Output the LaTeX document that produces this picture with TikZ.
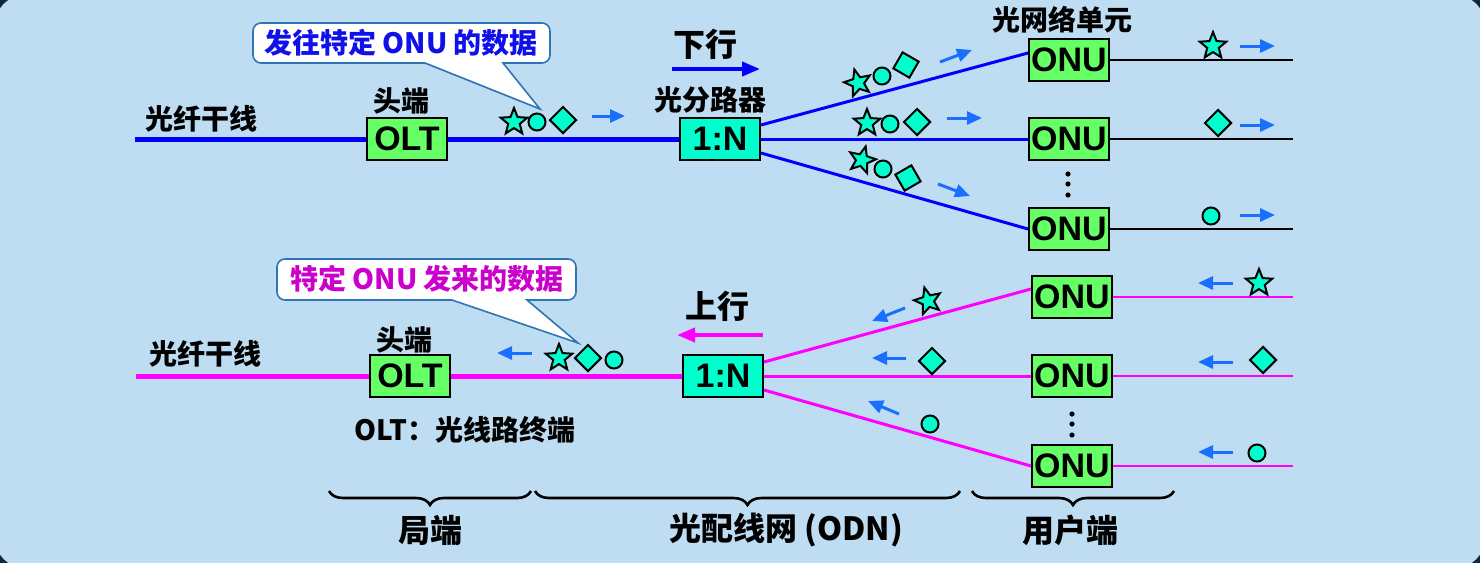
\documentclass[tikz,border=0pt]{standalone}
\usepackage{fontspec}
\setmainfont{Liberation Sans}
\newfontfamily\cjk{Noto Sans CJK SC}
\usetikzlibrary{shapes.geometric,arrows.meta,decorations.pathreplacing}
\definecolor{bgblue}{RGB}{190,221,242}
\definecolor{navy}{RGB}{18,38,62}
\definecolor{boxgreen}{RGB}{102,255,102}
\definecolor{symcyan}{RGB}{0,255,204}
\definecolor{arrowblue}{RGB}{26,111,255}
\definecolor{callborder}{RGB}{46,117,182}
\definecolor{calltop}{RGB}{16,16,235}
\definecolor{callbot}{RGB}{204,0,204}
\definecolor{mag}{RGB}{255,0,255}
\begin{document}
\begin{tikzpicture}[x=0.5pt,y=-0.5pt,
  box/.style={draw=black,line width=1pt,minimum width=40pt,minimum height=21pt,inner sep=0pt,font=\fontsize{17}{17}\selectfont\bfseries},
  greenbox/.style={box,fill=boxgreen},
  cyanbox/.style={box,fill=symcyan},
  lbl/.style={font=\cjk\bfseries\fontsize{14}{14}\selectfont,inner sep=0pt},
  biglbl/.style={font=\cjk\bfseries\fontsize{16}{16}\selectfont,inner sep=0pt},
  starsym/.style={star,star points=5,star point ratio=2.3,draw=black,fill=symcyan,line width=1pt,minimum size=14pt,inner sep=0pt},
  circsym/.style={circle,draw=black,fill=symcyan,line width=1pt,minimum size=8.5pt,inner sep=0pt},
  diasym/.style={diamond,aspect=1,draw=black,fill=symcyan,line width=1pt,minimum size=13.5pt,inner sep=0pt},
  sarrow/.style={draw=arrowblue,line width=1.5pt,-{Triangle[length=7.5pt,width=6.5pt]}},
  trunkB/.style={draw=blue,line width=2.5pt},
  trunkM/.style={draw=mag,line width=2.5pt},
  branchB/.style={draw=blue,line width=1.5pt},
  branchM/.style={draw=mag,line width=1.5pt},
  userB/.style={draw=black,line width=1.2pt},
  userM/.style={draw=mag,line width=1.1pt},
  callout/.style={draw=callborder,line width=0.8pt,fill=white},
  bracestyle/.style={decorate,decoration={brace,mirror,amplitude=7pt},line width=1.3pt},
  dirarrowB/.style={draw=blue,line width=2pt,-{Triangle[length=9pt,width=7pt]}},
  dirarrowM/.style={draw=mag,line width=2pt,-{Triangle[length=9pt,width=7pt]}}
]
% background
\useasboundingbox (0,0) rectangle (1480,563);
\begin{scope}
\clip (0,0) rectangle (1480,563);
\fill[navy] (0,0) rectangle (1480,563);
\fill[bgblue,rounded corners=15pt] (-5,-5) rectangle (1485,568);
\end{scope}

% ================= downstream =================
\node[lbl] (trunk1) at (201,119) {光纤干线};
\coordinate (t1start) at (135,139);
\node[greenbox] (olt1) at (407,139) {OLT};
\node[lbl] (head1) at (401,101) {头端};
\node[cyanbox] (sp1) at (720,139) {1:N};
\node[lbl] (splab1) at (710,100) {光分路器};
\node[biglbl] (down) at (705,44) {下行};
\coordinate (dA) at (672,69);
\coordinate (dB) at (760,69);
\draw[dirarrowB] (dA) -- (dB);

\node[greenbox] (onu1) at (1069,60) {ONU};
\node[greenbox] (onu2) at (1069,139) {ONU};
\node[greenbox] (onu3) at (1069,229) {ONU};
\node[lbl] (onulab) at (1062,20) {光网络单元};
\coordinate (r1) at (1293,60);
\coordinate (r2) at (1293,139);
\coordinate (r3) at (1293,229);

\draw[trunkB] (t1start) -- (olt1.west);
\draw[trunkB] (olt1.east) -- (sp1.west);
\draw[branchB] ([yshift=7pt]sp1.east) -- ([yshift=3.5pt]onu1.west);
\draw[branchB] (sp1.east) -- (onu2.west);
\draw[branchB] ([yshift=-7pt]sp1.east) -- (onu3.west);
\draw[userB] (onu1.east) -- (r1);
\draw[userB] (onu2.east) -- (r2);
\draw[userB] (onu3.east) -- (r3);
\foreach \yy in {174,184,195} \fill (1068,\yy) circle (1.3pt);

% callout top
\draw[callout] (425,63) -- (540,109) -- (503,63) [rounded corners=4pt] -- (550,63) -- (550,23) -- (253,23) -- (253,63) [sharp corners] -- cycle;
\node[font=\cjk\bfseries\fontsize{14}{14}\selectfont,text=calltop,inner sep=0pt] (c1) at (401,43) {发往特定 ONU 的数据};

% symbols top trunk
\node[starsym] (ts1) at (514,122) {};
\node[circsym] (tc1) at (537,122) {};
\node[diasym] (td1) at (563,120) {};
\draw[sarrow] (592,116) -- (625,116);
% branch symbols
\node[starsym,rotate=15] (bs1) at (858,83) {};
\node[circsym] (bc1) at (882,76) {};
\node[diasym,rotate=15] (bd1) at (906,65) {};
\draw[sarrow] (940,62) -- (972,50);
\node[starsym] (bs2) at (867,123) {};
\node[circsym] (bc2) at (890,124) {};
\node[diasym] (bd2) at (917,122) {};
\draw[sarrow] (947,118) -- (982,118);
\node[starsym,rotate=-15] (bs3) at (862,160) {};
\node[circsym] (bc3) at (883,169) {};
\node[diasym,rotate=-15] (bd3) at (908,178) {};
\draw[sarrow] (938,184) -- (970,196);
% user side
\node[starsym] (us1) at (1213,46) {};
\draw[sarrow] (1240,46) -- (1275,46);
\node[diasym] (ud2) at (1218,123) {};
\draw[sarrow] (1240,125) -- (1275,125);
\node[circsym] (uc3) at (1211,216) {};
\draw[sarrow] (1240,215) -- (1275,215);

% ================= upstream =================
\node[lbl] (trunk2) at (205,354) {光纤干线};
\coordinate (t2start) at (136,376);
\node[greenbox] (olt2) at (410,376) {OLT};
\node[lbl] (head2) at (404,340) {头端};
\node[cyanbox] (sp2) at (723,376) {1:N};
\node[biglbl] (up) at (717,306) {上行};
\coordinate (uA) at (763,335);
\coordinate (uB) at (677,335);
\draw[dirarrowM] (uA) -- (uB);
\node[lbl] (oltnote) at (465,430) {OLT：光线路终端};

\node[greenbox] (onu4) at (1072,297) {ONU};
\node[greenbox] (onu5) at (1072,376) {ONU};
\node[greenbox] (onu6) at (1072,466) {ONU};
\coordinate (r4) at (1293,297);
\coordinate (r5) at (1293,376);
\coordinate (r6) at (1293,466);

\draw[trunkM] (t2start) -- (olt2.west);
\draw[trunkM] (olt2.east) -- (sp2.west);
\draw[branchM] ([yshift=7pt]sp2.east) -- ([yshift=4pt]onu4.west);
\draw[branchM] (sp2.east) -- (onu5.west);
\draw[branchM] ([yshift=-7pt]sp2.east) -- (onu6.west);
\draw[userM] (onu4.east) -- (r4);
\draw[userM] (onu5.east) -- (r5);
\draw[userM] (onu6.east) -- (r6);
\foreach \yy in {414,424,435} \fill (1072,\yy) circle (1.3pt);

% callout bottom
\draw[callout] (452,300) -- (578,343) -- (527,300) [rounded corners=4pt] -- (576,300) -- (576,259) -- (277,259) -- (277,300) [sharp corners] -- cycle;
\node[font=\cjk\bfseries\fontsize{14}{14}\selectfont,text=callbot,inner sep=0pt] (c2) at (427,279) {特定 ONU 发来的数据};

% symbols bottom trunk
\draw[sarrow] (532,353) -- (497,353);
\node[starsym] (ps1) at (559,358) {};
\node[diasym] (pd1) at (588,358) {};
\node[circsym] (pc1) at (614,360) {};
% branch symbols
\node[starsym,rotate=15] (qs1) at (928,301) {};
\draw[sarrow] (905,308) -- (872,321);
\node[diasym] (qd2) at (932,361) {};
\draw[sarrow] (906,358) -- (872,358);
\node[circsym] (qc3) at (930,424) {};
\draw[sarrow] (899,414) -- (868,401);
% user side
\node[starsym] (vs1) at (1259,283) {};
\draw[sarrow] (1233,283) -- (1198,283);
\node[diasym] (vd2) at (1263,360) {};
\draw[sarrow] (1233,362) -- (1198,362);
\node[circsym] (vc3) at (1257,453) {};
\draw[sarrow] (1233,452) -- (1198,452);

% ================= braces =================
\coordinate (b1a) at (329,491); \coordinate (b1b) at (531,491);
\coordinate (b2a) at (535,491); \coordinate (b2b) at (960,491);
\coordinate (b3a) at (972,491); \coordinate (b3b) at (1174,491);
\draw[bracestyle] (b1a) -- (b1b);
\draw[bracestyle] (b2a) -- (b2b);
\draw[bracestyle] (b3a) -- (b3b);
\node[biglbl] (lab1) at (430,530) {局端};
\node[biglbl] (lab2) at (786,530) {光配线网 (ODN)};
\node[biglbl] (lab3) at (1070,530) {用户端};
\end{tikzpicture}
\end{document}
